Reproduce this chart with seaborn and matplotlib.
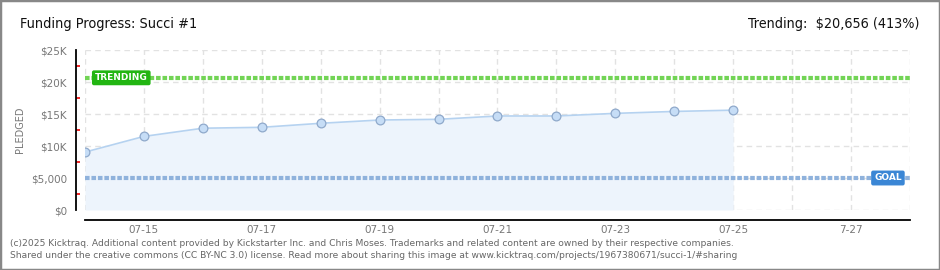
import matplotlib
matplotlib.use("Agg")
import matplotlib.pyplot as plt
import matplotlib.dates as mdates
from matplotlib.patches import Rectangle
from matplotlib.ticker import FixedLocator, FixedFormatter
import seaborn as sns
import pandas as pd

# ---- data ----
dates = ["2025-07-14", "2025-07-15", "2025-07-16", "2025-07-17", "2025-07-18", "2025-07-19",
         "2025-07-20", "2025-07-21", "2025-07-22", "2025-07-23", "2025-07-24", "2025-07-25"]
pledged = [9050, 11500, 12780, 12920, 13550, 14060, 14170, 14690, 14690, 15100, 15400, 15600]
goal = 5000
trending = 20656
title = "Funding Progress: Succi #1"
trend_text = "Trending:  $20,656 (413%)"
tick_dates = ["2025-07-14", "2025-07-15", "2025-07-16", "2025-07-17", "2025-07-18", "2025-07-19",
              "2025-07-20", "2025-07-21", "2025-07-22", "2025-07-23", "2025-07-24", "2025-07-25",
              "2025-07-26", "2025-07-27", "2025-07-28"]
tick_labels = ["", "07-15", "", "07-17", "", "07-19", "", "07-21", "", "07-23", "", "07-25", "", "7-27", ""]
ytick_vals = [0, 5000, 10000, 15000, 20000, 25000]
ytick_labels = ["$0", "$5,000", "$10K", "$15K", "$20K", "$25K"]
yminor_vals = [2500, 7500, 12500, 17500, 22500]
footer1 = ("(c)2025 Kicktraq. Additional content provided by Kickstarter Inc. and Chris Moses. "
           "Trademarks and related content are owned by their respective companies.")
footer2 = ("Shared under the creative commons (CC BY-NC 3.0) license. Read more about sharing this "
           "image at www.kicktraq.com/projects/1967380671/succi-1/#sharing")

sns.set_style("white")
plt.rcParams['font.family'] = ['DejaVu Sans']

df = pd.DataFrame({"date": pd.to_datetime(dates), "pledged": pledged})
tick_dt = pd.to_datetime(tick_dates)

W, H = 940, 270
PX = 72 / 100  # points per pixel
fig = plt.figure(figsize=(W / 100, H / 100), dpi=100)
fig.patch.set_facecolor("white")
ax = fig.add_axes([85 / W, 1 - 210 / H, 825 / W, 160 / H])

# fill + line + markers
ax.fill_between(df["date"], df["pledged"], 0, color="#edf4fc", zorder=1, linewidth=0)
sns.lineplot(data=df, x="date", y="pledged", ax=ax, color="#b5d2f0", linewidth=1.2,
             marker="o", markersize=6.3, markerfacecolor="#c6ddf6",
             markeredgecolor="#8fa9cb", markeredgewidth=0.9, zorder=4)

# reference lines
ax.axhline(trending, color="#72d455", lw=3, linestyle=(0, (1.1, 0.45)), zorder=3)
ax.axhline(goal, color="#8fb2dc", lw=3, linestyle=(0, (1.1, 0.45)), zorder=3)

ax.set_xlim(tick_dt[0], tick_dt[-1])
ax.set_ylim(0, 25000)

# grid / ticks
ax.xaxis.set_major_locator(FixedLocator(mdates.date2num(tick_dt)))
ax.xaxis.set_major_formatter(FixedFormatter(tick_labels))
ax.yaxis.set_major_locator(FixedLocator(ytick_vals))
ax.yaxis.set_major_formatter(FixedFormatter(ytick_labels))
ax.yaxis.set_minor_locator(FixedLocator(yminor_vals))
ax.grid(True, which="major", color="#e2e2e2", linestyle=(0, (4, 3)), linewidth=1)
ax.set_axisbelow(True)

for s in ["top", "right"]:
    ax.spines[s].set_visible(False)
ax.spines["left"].set_position(("outward", 9 * PX))
ax.spines["bottom"].set_position(("outward", 10 * PX))
for s in ["left", "bottom"]:
    ax.spines[s].set_color("black")
    ax.spines[s].set_linewidth(1.3)

ax.tick_params(axis="x", which="major", direction="inout", length=6, width=1.2, color="black",
               labelsize=7.5, labelcolor="#777777", pad=0.5)
ax.tick_params(axis="y", which="major", direction="inout", length=5, width=1.3, color="black",
               labelsize=7.5, labelcolor="#777777", pad=4)
ax.tick_params(axis="y", which="minor", direction="in", length=3, width=1.2, color="#ee0000", left=True)
ax.set_xlabel("")
ax.set_ylabel("")

# labels on lines
ax.text(0.012, trending, "TRENDING", transform=ax.get_yaxis_transform(), color="white",
        fontsize=6.5, fontweight="bold", va="center", ha="left", zorder=6,
        bbox=dict(boxstyle="round,pad=0.25,rounding_size=0.15", facecolor="#22b512", edgecolor="#22b512"))
ax.text(0.990, goal, "GOAL", transform=ax.get_yaxis_transform(), color="white",
        fontsize=6.5, fontweight="bold", va="center", ha="right", zorder=6,
        bbox=dict(boxstyle="round,pad=0.25,rounding_size=0.15", facecolor="#3a86d5", edgecolor="#3a86d5"))

# texts
fig.text(20 / W, 1 - 24 / H, title, fontsize=10.4, color="#111111", va="center", ha="left",
         family="DejaVu Sans", fontstretch="condensed", fontweight="light")
fig.text(919 / W, 1 - 24 / H, trend_text, fontsize=10.3, color="#111111", va="center", ha="right",
         family="DejaVu Sans", fontstretch="condensed", fontweight="light")
fig.text(20 / W, 1 - 130 / H, "PLEDGED", rotation=90, fontsize=7, color="#777777",
         va="center", ha="center")
fig.text(10 / W, 1 - 243 / H, footer1, fontsize=6.6, color="#666666", va="center", ha="left")
fig.text(10 / W, 1 - 255 / H, footer2, fontsize=6.6, color="#666666", va="center", ha="left")

fig.add_artist(Rectangle((0, 0), 1, 1, transform=fig.transFigure, fill=False,
                         edgecolor="#888888", linewidth=2.5))

fig.savefig("out.png", dpi=100)
